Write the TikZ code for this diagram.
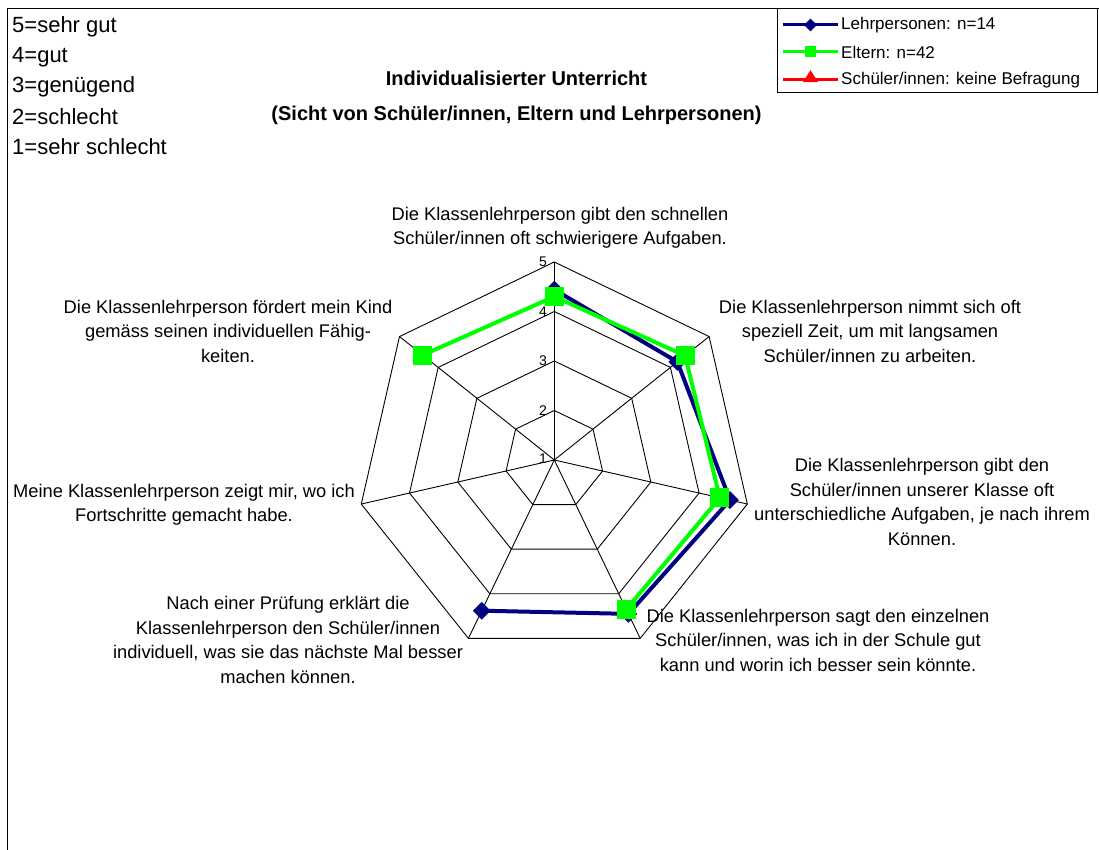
\documentclass[tikz,border=0pt]{standalone}
\usepackage{fontspec}
\setmainfont{Liberation Sans}
\usetikzlibrary{shapes.geometric}
\definecolor{navy}{RGB}{0,0,128}
\definecolor{lgreen}{RGB}{0,255,0}
\begin{document}
\begin{tikzpicture}[x=1pt,y=1pt,
  grid/.style={black, line width=0.9pt, line join=miter},
  lab/.style={font=\fontsize{18.3}{24.5}\selectfont, align=center, inner sep=0pt},
  scl/.style={font=\fontsize{22}{24}\selectfont, anchor=west, inner sep=0pt},
  num/.style={font=\fontsize{14}{16}\selectfont, anchor=east, inner sep=0pt},
  leg/.style={font=\fontsize{17}{19}\selectfont, anchor=west, inner sep=0pt},
  ttl/.style={font=\fontsize{20}{24}\selectfont\bfseries, inner sep=0pt},
  bline/.style={navy, line width=4pt, line join=round},
  gline/.style={lgreen, line width=4pt, line join=round},
  rline/.style={red, line width=3pt},
  bmark/.style={diamond, fill=navy, inner sep=0pt, minimum width=18pt, minimum height=18pt},
  gmark/.style={rectangle, fill=lgreen, inner sep=0pt, minimum size=19pt},
  bmarks/.style={diamond, fill=navy, inner sep=0pt, minimum width=13pt, minimum height=13pt},
  gmarks/.style={rectangle, fill=lgreen, inner sep=0pt, minimum size=11pt},
  rmarks/.style={isosceles triangle, isosceles triangle apex angle=65, shape border rotate=90, fill=red, inner sep=0pt, minimum height=12pt},
]
\useasboundingbox (0,0) rectangle (1099,850);
\fill[white] (0,0) rectangle (1099,850);
\draw[line width=1pt] (7,0) -- (7,841) -- (1099,841);

% scale list
\node[scl] (s5) at (12,823) {5=sehr gut};
\node[scl] (s4) at (12,793) {4=gut};
\node[scl] (s3) at (12,763) {3=genügend};
\node[scl] (s2) at (12,733) {2=schlecht};
\node[scl] (s1) at (12,703) {1=sehr schlecht};

% title
\node[ttl] (t1) at (516.5,772) {Individualisierter Unterricht};
\node[ttl] (t2) at (516.5,735) {(Sicht von Schüler/innen, Eltern und Lehrpersonen)};

% legend
\draw[line width=1pt] (777,841) -- (777,757) -- (1097,757) -- (1097,841);
\draw[bline, line width=3pt] (783,825) coordinate (lb0) -- (838,825) coordinate (lb1);
\node[bmarks] (lbm) at (810.5,825) {};
\node[leg] (lbt) at (841,825) {Lehrpersonen: n=14};
\draw[gline, line width=3pt] (783,798) coordinate (lg0) -- (838,798) coordinate (lg1);
\node[gmarks] (lgm) at (810.5,798) {};
\node[leg] (lgt) at (841,798) {Eltern: n=42};
\draw[rline] (783,770) coordinate (lr0) -- (838,770) coordinate (lr1);
\node[rmarks] (lrm) at (810.5,772) {};
\node[leg] (lrt) at (841,770) {Schüler/innen: keine Befragung};

% radar grid
\begin{scope}[shift={(554.3,390)}]
  \coordinate (O) at (0,0);
  \foreach \k in {0,...,6} \draw[grid] (O) -- ({90-\k*360/7}:198);
  \foreach \l in {1,...,4} {
    \draw[grid] (90:{\l*49.5}) \foreach \k in {1,...,6} { -- ({90-\k*360/7}:{\l*49.5}) } -- cycle;
  }
  % data
  \coordinate (b1) at (90:170.3);
  \coordinate (b2) at (38.571:157.4);
  \coordinate (b3) at (-12.857:180.2);
  \coordinate (b4) at (-64.286:170.8);
  \coordinate (b5) at (-115.714:167.3);
  \coordinate (g7) at (141.429:168.3);
  \coordinate (g1) at (90:163.4);
  \coordinate (g2) at (38.571:167.3);
  \coordinate (g3) at (-12.857:169.8);
  \coordinate (g4) at (-64.286:165.8);
  \draw[bline] (b1) -- (b2) -- (b3) -- (b4) -- (b5);
  \foreach \p in {b1,b2,b3,b4,b5} \node[bmark] at (\p) {};
  \draw[gline] (g7) -- (g1) -- (g2) -- (g3) -- (g4);
  \foreach \p in {g7,g1,g2,g3,g4} \node[gmark] at (\p) {};
\end{scope}

% axis numbers
\node[num] (n5) at (547,588) {5};
\node[num] (n4) at (547,538.5) {4};
\node[num] (n3) at (547,489) {3};
\node[num] (n2) at (547,439.5) {2};
\node[num] (n1) at (547,391) {1};

% axis labels
\node[lab] (l1) at (560,622) {Die Klassenlehrperson gibt den schnellen\\Schüler/innen oft schwierigere Aufgaben.};
\node[lab] (l2) at (870,519) {Die Klassenlehrperson nimmt sich oft\\speziell Zeit, um mit langsamen\\Schüler/innen zu arbeiten.};
\node[lab] (l3) at (922,348) {Die Klassenlehrperson gibt den\\Schüler/innen unserer Klasse oft\\unterschiedliche Aufgaben, je nach ihrem\\Können.};
\node[lab] (l4) at (818,210) {Die Klassenlehrperson sagt den einzelnen\\Schüler/innen, was ich in der Schule gut\\kann und worin ich besser sein könnte.};
\node[lab] (l5) at (288,210) {Nach einer Prüfung erklärt die\\Klassenlehrperson den Schüler/innen\\individuell, was sie das nächste Mal besser\\machen können.};
\node[lab] (l6) at (184,345) {Meine Klassenlehrperson zeigt mir, wo ich\\Fortschritte gemacht habe.};
\node[lab] (l7) at (228,519) {Die Klassenlehrperson fördert mein Kind\\gemäss seinen individuellen Fähig-\\keiten.};
\end{tikzpicture}
\end{document}
